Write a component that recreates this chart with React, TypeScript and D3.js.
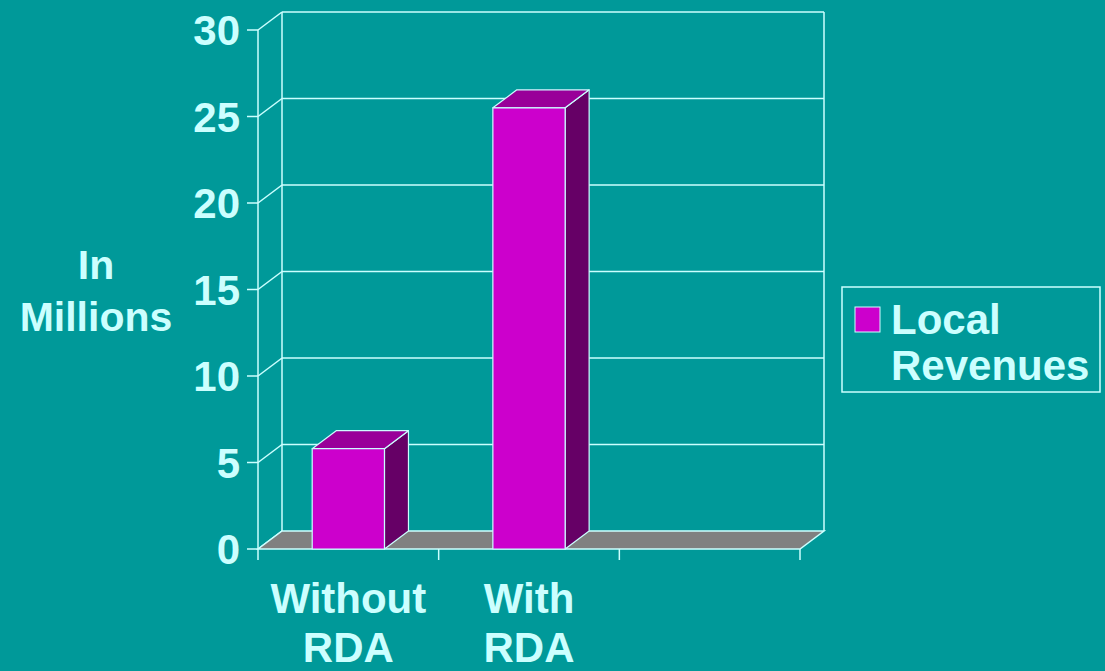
import React from "react";
import * as d3 from "d3";

const categories: string[][] = [["Without", "RDA"], ["With", "RDA"]];
const slotCount = 3;
const values: number[] = [5.8, 25.5];
const yTicks: number[] = [0, 5, 10, 15, 20, 25, 30];
const seriesName: string[] = ["Local", "Revenues"];
const yLabel: string[] = ["In", "Millions"];

const BG = "#009999";
const INK = "#CCFFFF";
const FRONT = "#CC00CC";
const TOP = "#990099";
const SIDE = "#660066";
const FLOOR = "#808080";
const FONT = "Arial, 'Liberation Sans', sans-serif";

export default function App() {
  const W = 1105, H = 671;
  const x0 = 258, x1 = 800;
  const dx = 24, dy = -18;
  const y = d3.scaleLinear().domain([0, 30]).range([549, 30]);
  const x = d3.scaleBand<number>().domain(d3.range(slotCount)).range([x0, x1]);
  const bw = x.bandwidth() * 0.4;
  const y0 = y(0);
  const pts = (a: [number, number][]) => a.map((p) => p.join(",")).join(" ");

  return (
    <div style={{ position: "fixed", left: 0, top: 0, width: W, height: H, background: BG }}>
      <svg width={W} height={H} style={{ display: "block" }}>
        <rect width={W} height={H} fill={BG} />
        {/* back wall gridlines */}
        {yTicks.map((t) => (
          <g key={t}>
            {t > 0 && (
              <line x1={x0 + dx} x2={x1 + dx} y1={y(t) + dy} y2={y(t) + dy} stroke={INK} strokeWidth={1.5} />
            )}
            <line x1={x0} x2={x0 + dx} y1={y(t)} y2={y(t) + dy} stroke={INK} strokeWidth={1.5} />
            <line x1={x0 - 11} x2={x0} y1={y(t)} y2={y(t)} stroke={INK} strokeWidth={1.5} />
          </g>
        ))}
        <line x1={x0 + dx} x2={x0 + dx} y1={y(30) + dy} y2={y0 + dy} stroke={INK} strokeWidth={1.5} />
        <line x1={x1 + dx} x2={x1 + dx} y1={y(30) + dy} y2={y0 + dy} stroke={INK} strokeWidth={1.5} />
        {/* floor */}
        <polygon
          points={pts([[x0, y0], [x1, y0], [x1 + dx, y0 + dy], [x0 + dx, y0 + dy]])}
          fill={FLOOR}
          stroke={INK}
          strokeWidth={1.5}
        />
        <line x1={x0} x2={x0} y1={y(30)} y2={y0} stroke={INK} strokeWidth={1.5} />
        {d3.range(slotCount + 1).map((i) => {
          const xx = i < slotCount ? (x(i) as number) : x1;
          return <line key={i} x1={xx} x2={xx} y1={y0} y2={y0 + 11} stroke={INK} strokeWidth={1.5} />;
        })}
        {/* bars */}
        {values.map((v, i) => {
          const cx = (x(i) as number) + x.bandwidth() / 2;
          const l = cx - bw / 2, r = cx + bw / 2;
          const top = y(v);
          return (
            <g key={i} stroke={INK} strokeWidth={1.2} strokeLinejoin="round">
              <polygon points={pts([[r, top], [r + dx, top + dy], [r + dx, y0 + dy], [r, y0]])} fill={SIDE} />
              <polygon points={pts([[l, top], [l + dx, top + dy], [r + dx, top + dy], [r, top]])} fill={TOP} />
              <rect x={l} y={top} width={bw} height={y0 - top} fill={FRONT} />
            </g>
          );
        })}
        {/* y tick labels */}
        {yTicks.map((t) => (
          <text key={t} x={240} y={y(t) + 15} textAnchor="end" fill={INK} fontFamily={FONT} fontWeight="bold" fontSize={42}>
            {t}
          </text>
        ))}
        {/* y label */}
        {yLabel.map((s, i) => (
          <text key={s} x={96} y={279 + i * 52} textAnchor="middle" fill={INK} fontFamily={FONT} fontWeight="bold" fontSize={41}>
            {s}
          </text>
        ))}
        {/* category labels */}
        {categories.map((lines, i) => {
          const cx = (x(i) as number) + x.bandwidth() / 2;
          return lines.map((s, j) => (
            <text key={i + "-" + j} x={cx} y={613 + j * 49} textAnchor="middle" fill={INK} fontFamily={FONT} fontWeight="bold" fontSize={42}>
              {s}
            </text>
          ));
        })}
        {/* legend */}
        <rect x={842} y={287} width={258} height={105} fill="none" stroke={INK} strokeWidth={1.5} />
        <rect x={855} y={307} width={25} height={25} fill={FRONT} stroke={INK} strokeWidth={1} />
        {seriesName.map((s, i) => (
          <text key={s} x={891} y={334 + i * 46} fill={INK} fontFamily={FONT} fontWeight="bold" fontSize={42}>
            {s}
          </text>
        ))}
      </svg>
    </div>
  );
}
